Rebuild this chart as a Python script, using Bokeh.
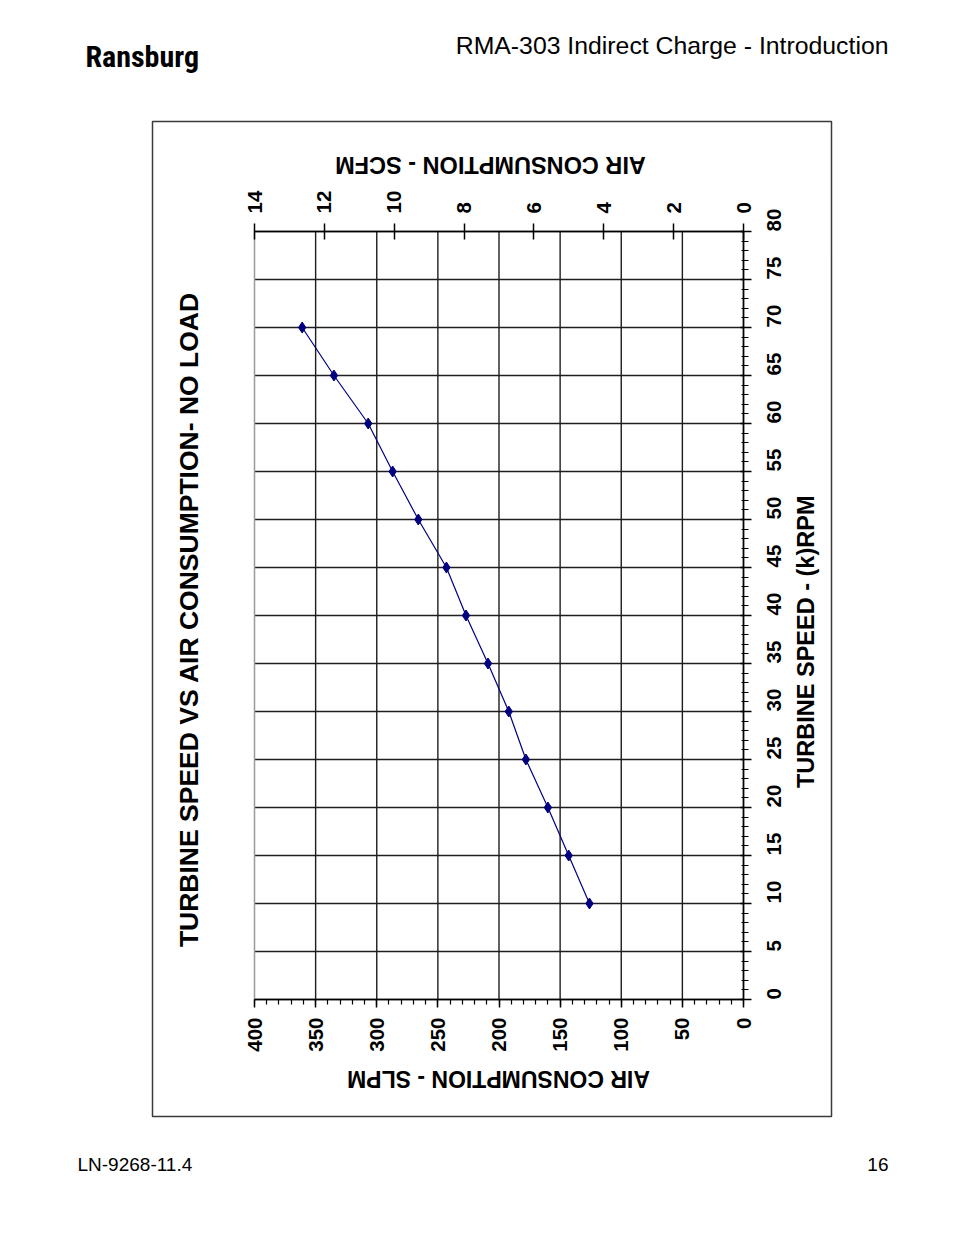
import math
from bokeh.plotting import figure
from bokeh.models import (Range1d, LinearAxis, SingleIntervalTicker, FixedTicker,
                          Label, PolyAnnotation)
from bokeh.embed import file_html
from bokeh.resources import INLINE

# ---------------- data ----------------
rpm_k = [10, 15, 20, 25, 30, 35, 40, 45, 50, 55, 60, 65, 70]
air_slpm = [126, 143, 160, 178, 192, 209, 227, 243, 266, 287, 307, 335, 361]

slpm_ticks = [0, 50, 100, 150, 200, 250, 300, 350, 400]
slpm_grid = [0, 50, 100, 150, 200, 250, 300, 350]
scfm_ticks = [0, 2, 4, 6, 8, 10, 12, 14]
rpm_ticks = [0, 5, 10, 15, 20, 25, 30, 35, 40, 45, 50, 55, 60, 65, 70, 75, 80]

title_text = "TURBINE SPEED VS AIR CONSUMPTION- NO LOAD"
x_title = "AIR CONSUMPTION - SLPM"
top_title = "AIR CONSUMPTION - SCFM"
y_title = "TURBINE SPEED -  (k)RPM"
brand = "Ransburg"
header = "RMA-303 Indirect Charge - Introduction"
doc_no = "LN-9268-11.4"
page_no = "16"

# ---------------- layout (page pixels) ----------------
OFF = 0                                   # page offset of the canvas
FIG_W, FIG_H = 938, 1219
PL, PR, PT, PB = 254, 743, 231, 999       # chart area edges on the page
SLPM_L, SLPM_R = 400, 0                   # values at the left / right edge
SCFM_L, SCFM_R = 14, 0
RPM_B, RPM_T = 0, 80


def lin(px, p0, p1, v0, v1):
    return v0 + (px - p0) * (v1 - v0) / (p1 - p0)


def dx(px):
    return lin(px, PL, PR, SLPM_L, SLPM_R)


def dy(py):
    return lin(py, PB, PT, RPM_B, RPM_T)


x0, x1 = dx(OFF), dx(OFF + FIG_W)
y0, y1 = dy(OFF + FIG_H), dy(OFF)
s0 = lin(OFF, PL, PR, SCFM_L, SCFM_R)
s1 = lin(OFF + FIG_W, PL, PR, SCFM_L, SCFM_R)

FONT = "Liberation Sans"

p = figure(x_range=Range1d(x0, x1), y_range=Range1d(y0, y1),
           width=FIG_W, height=FIG_H,
           min_border=0, min_border_left=0, min_border_right=0,
           min_border_top=0, min_border_bottom=0,
           output_backend="svg", toolbar_location=None,
           x_axis_location=None, y_axis_location=None)
p.background_fill_color = "white"
p.border_fill_color = "white"
p.outline_line_color = None
p.xgrid.visible = False
p.ygrid.visible = False

GRID = "#1e1e1e"
# grid lines inside the chart area
p.segment(x0=slpm_grid, y0=[RPM_B] * len(slpm_grid),
          x1=slpm_grid, y1=[RPM_T] * len(slpm_grid),
          line_color=GRID, line_width=1.4)
p.segment(x0=[SLPM_R] * len(rpm_ticks), y0=rpm_ticks,
          x1=[SLPM_L] * len(rpm_ticks), y1=rpm_ticks,
          line_color=GRID, line_width=1.4)
# left edge of the chart area (lighter)
p.segment(x0=[SLPM_L], y0=[RPM_B], x1=[SLPM_L], y1=[RPM_T],
          line_color="#9a9a9a", line_width=1.5)

# bottom axis (SLPM)
xa = LinearAxis(fixed_location=RPM_B, bounds=(SLPM_R, SLPM_L),
                ticker=SingleIntervalTicker(interval=50, num_minor_ticks=5))
xa.major_tick_out = 8
xa.major_tick_in = 0
xa.minor_tick_out = 5
xa.minor_tick_in = 0
xa.major_label_standoff = 10
p.add_layout(xa, "below")

# right axis (RPM)
ya = LinearAxis(fixed_location=SLPM_R, bounds=(RPM_B, RPM_T),
                ticker=SingleIntervalTicker(interval=5, num_minor_ticks=5))
ya.major_tick_out = 8
ya.major_tick_in = 3
ya.minor_tick_out = 5
ya.minor_tick_in = 2
ya.major_label_standoff = 22
p.add_layout(ya, "right")

# top axis (SCFM)
p.extra_x_ranges = {"scfm": Range1d(s0, s1)}
ta = LinearAxis(x_range_name="scfm", fixed_location=RPM_T,
                bounds=(SCFM_R, SCFM_L), ticker=FixedTicker(ticks=scfm_ticks))
ta.major_tick_out = 8
ta.major_tick_in = 8
ta.minor_tick_out = 0
ta.minor_tick_in = 0
ta.major_label_standoff = 10
p.add_layout(ta, "above")

for ax in (xa, ya, ta):
    ax.major_label_orientation = math.pi / 2
    ax.axis_line_color = "black"
    ax.axis_line_width = 1.5
    ax.major_tick_line_color = "black"
    ax.major_tick_line_width = 1.5
    ax.minor_tick_line_color = "black"
    ax.minor_tick_line_width = 1.2
    ax.major_label_text_font = FONT
    ax.major_label_text_font_style = "bold"
    ax.major_label_text_font_size = "20.5px"
    ax.major_label_text_color = "black"
    ax.axis_label = None

# data series
p.line(air_slpm, rpm_k, line_color="#000080", line_width=1.2)
p.scatter(air_slpm, rpm_k, marker="diamond", size=11, fill_color="#000080",
          line_color="#000080")

# chart box
p.add_layout(PolyAnnotation(xs=[dx(152), dx(831), dx(831), dx(152)],
                            ys=[dy(121), dy(121), dy(1116), dy(1116)],
                            fill_alpha=0, line_color="#3a3a3a", line_alpha=1.0,
                            line_width=1.5, xs_units="data", ys_units="data"))


def lab(text, px, py, size, style="bold", angle=0.0, align="center",
        baseline="middle", font=FONT):
    p.add_layout(Label(x=dx(px), y=dy(py), text=text, angle=angle,
                       text_align=align, text_baseline=baseline,
                       text_font=font, text_font_style=style,
                       text_font_size=size, text_color="black"))


# chart titles
lab(title_text, 188, 619, "26.5px", angle=math.pi / 2)
lab(y_title, 805, 638, "23.5px", angle=math.pi / 2)
lab(top_title, 490, 164, "23.5px", angle=math.pi)
lab(x_title, 498, 1078, "23px", angle=math.pi)

# page header / footer
lab(brand, 85, 56, "30px", align="left", baseline="alphabetic",
    font="Liberation Sans Narrow, Roboto Condensed, Arial Narrow, sans-serif")
lab(header, 888, 45, "24.8px", style="normal", align="right",
    baseline="alphabetic")
lab(doc_no, 77, 1164, "19px", style="normal", align="left", baseline="alphabetic",
    font="Liberation Sans Narrow, Arial Narrow, sans-serif")
lab(page_no, 888, 1164, "19px", style="normal", align="right",
    baseline="alphabetic", font="Liberation Sans Narrow, Arial Narrow, sans-serif")

open("out.html", "w").write(file_html(p, INLINE))
